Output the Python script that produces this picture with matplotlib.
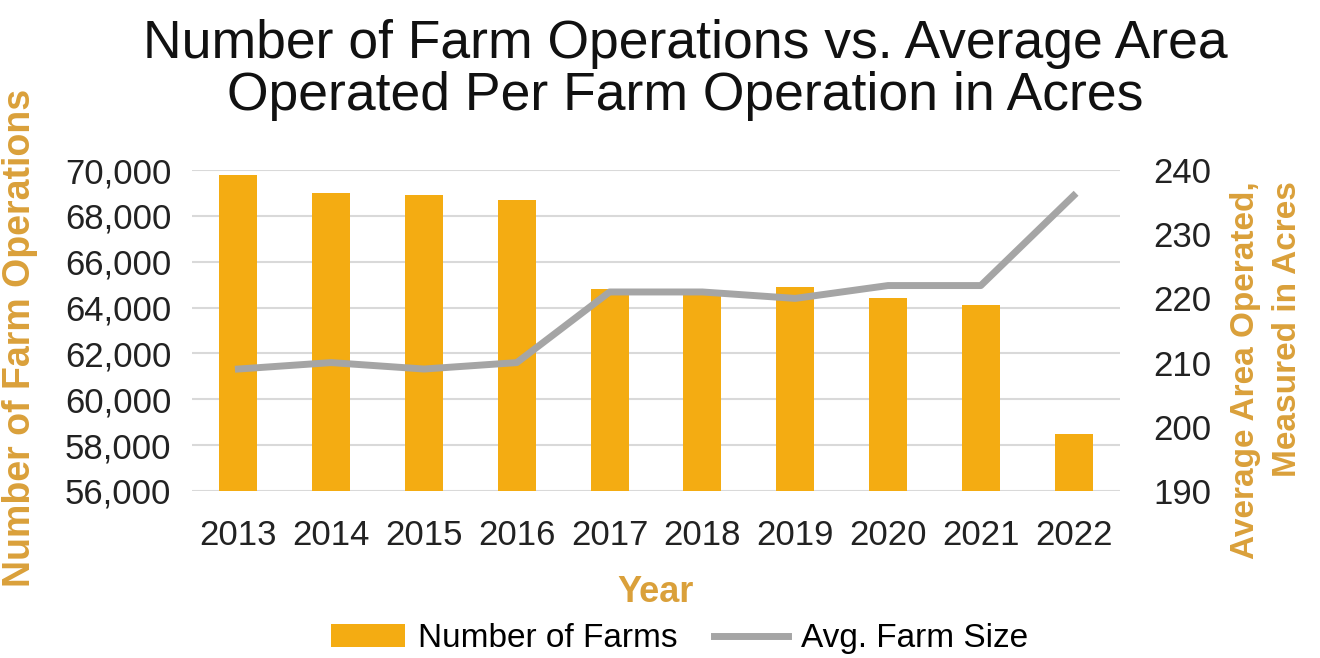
import matplotlib
matplotlib.use("Agg")
import matplotlib.pyplot as plt
import numpy as np

years = ["2013", "2014", "2015", "2016", "2017", "2018", "2019", "2020", "2021", "2022"]
num_farms = [69800, 69000, 68900, 68700, 64800, 64600, 64900, 64400, 64100, 58500]
avg_size = [209, 210, 209, 210, 221, 221, 220, 222, 222, 236]

plt.rcParams['font.family'] = ['Liberation Sans', 'DejaVu Sans']

bar_color = '#F4AC12'
line_color = '#A5A5A5'
label_color = '#DAA03A'

fig = plt.figure(figsize=(13.2, 6.58), dpi=100)
ax = fig.add_axes([192 / 1320, 1 - 491 / 658, 928 / 1320, 321 / 658])
ax2 = ax.twinx()

x = np.arange(len(years))
bars = ax.bar(x, num_farms, width=0.41, color=bar_color, zorder=2, label='Number of Farms')
line, = ax2.plot(x, avg_size, color=line_color, linewidth=5, zorder=3, label='Avg. Farm Size')

ax.set_ylim(56000, 70000)
ax.set_yticks(np.arange(56000, 70001, 2000))
ax.set_yticklabels(['{:,}'.format(v) for v in range(56000, 70001, 2000)])
ax2.set_ylim(190, 240)
ax2.set_yticks(np.arange(190, 241, 10))
ax.set_xlim(-0.5, len(years) - 0.5)
ax.set_xticks(x)
ax.set_xticklabels(years)

ax.grid(axis='y', color='#D9D9D9', linewidth=1.5, zorder=0)
ax.set_axisbelow(True)
for a in (ax, ax2):
    for s in a.spines.values():
        s.set_visible(False)
    a.tick_params(length=0, labelsize=25, colors='#222222')
ax.tick_params(axis='y', pad=15)
ax.tick_params(axis='x', pad=20)
ax2.tick_params(axis='y', pad=24)
ax2.patch.set_visible(False)

fig.text(0.519, 0.894, 'Number of Farm Operations vs. Average Area\nOperated Per Farm Operation in Acres',
         fontsize=38.5, ha='center', va='center', linespacing=1.05, color='#111111')

ax.set_ylabel('Number of Farm Operations', fontsize=27, fontweight='bold', color=label_color)
ax.yaxis.set_label_coords(-0.166, 0.477)
ax2.set_ylabel('Average Area Operated,\nMeasured in Acres', fontsize=24, fontweight='bold',
               color=label_color, linespacing=1.45)
ax2.yaxis.label.set_multialignment('right')
ax2.yaxis.set_label_coords(1.119, 0.377)
ax.set_xlabel('Year', fontsize=26, fontweight='bold', color=label_color)
ax.xaxis.set_label_coords(0.5, -0.262)

fig.legend(handles=[bars, line], loc='lower center', bbox_to_anchor=(0.515, -0.04), ncol=2,
           frameon=False, fontsize=24, handlelength=2.2, handletextpad=0.4, columnspacing=1.1)

fig.savefig('out.png', dpi=100)
